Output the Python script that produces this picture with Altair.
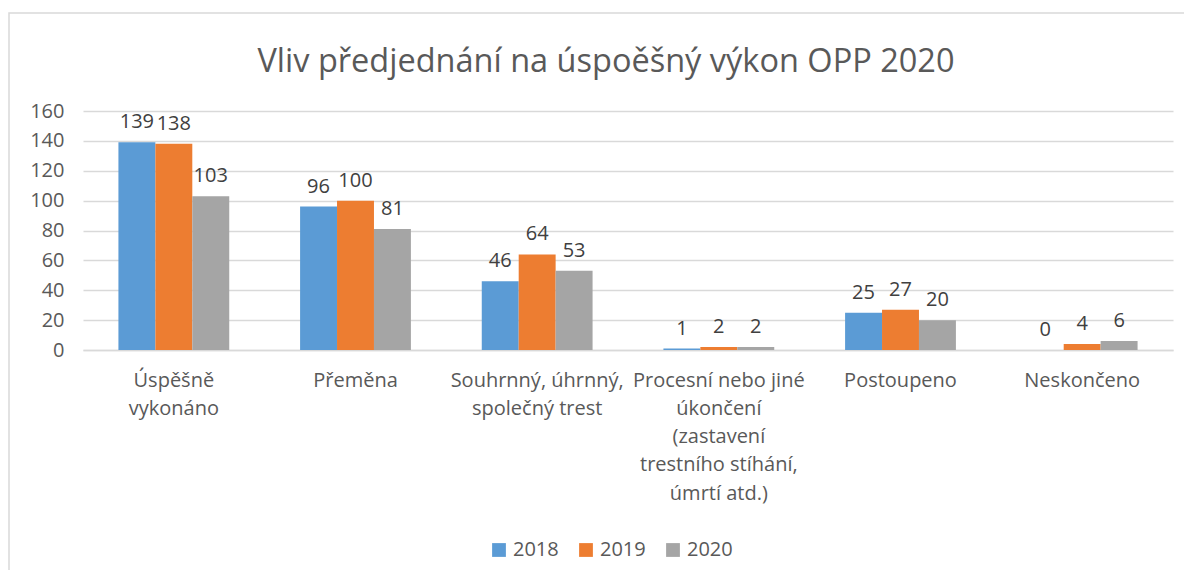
import altair as alt
import pandas as pd

categories = [
    "Úspěšně|vykonáno",
    "Přeměna",
    "Souhrnný, úhrnný,|společný trest",
    "Procesní nebo jiné|úkončení|(zastavení|trestního stíhání,|úmrtí atd.)",
    "Postoupeno",
    "Neskončeno",
]
years = ["2018", "2019", "2020"]
v2018 = [139, 96, 46, 1, 25, 0]
v2019 = [138, 100, 64, 2, 27, 4]
v2020 = [103, 81, 53, 2, 20, 6]
colors = ["#5B9BD5", "#ED7D31", "#A5A5A5"]

rows = []
for series, yr in zip([v2018, v2019, v2020], years):
    for c, v in zip(categories, series):
        rows.append({"cat": c, "year": yr, "value": v})
df = pd.DataFrame(rows)

FONT = "Open Sans"
FS = 20

x = alt.X("cat:N", sort=categories, title=None,
          scale=alt.Scale(paddingInner=0.39, paddingOuter=0.195),
          axis=alt.Axis(labelExpr="split(datum.label, '|')", labelAngle=0,
                        labelFontSize=FS, labelColor="#595959", labelFont=FONT,
                        labelPadding=20, labelLineHeight=28.3, labelOverlap=False,
                        labelLimit=400, ticks=False, domainColor="#D9D9D9",
                        domainWidth=1.5, labelBaseline="top"))
y = alt.Y("value:Q", title=None,
          scale=alt.Scale(domain=[0, 160], nice=False),
          axis=alt.Axis(values=list(range(0, 161, 20)), labelFontSize=FS,
                        labelColor="#595959", labelFont=FONT, labelPadding=19,
                        labelOverlap=False, ticks=False, domain=False,
                        gridColor="#D9D9D9", gridWidth=1.5))
color = alt.Color("year:N", sort=years,
                  scale=alt.Scale(domain=years, range=colors),
                  legend=alt.Legend(title=None, orient="none", direction="horizontal",
                                    legendX=406, legendY=429, symbolType="square",
                                    symbolSize=190, symbolStrokeWidth=0,
                                    labelFontSize=FS, labelColor="#595959",
                                    labelFont=FONT, columnPadding=17,
                                    symbolOpacity=1))

base = alt.Chart(df).encode(x=x, y=y, xOffset=alt.XOffset("year:N", sort=years))

bars = base.mark_bar().encode(color=color)
labels = base.mark_text(fontSize=FS, font=FONT, color="#404040",
                        baseline="alphabetic", dy=-14).encode(
    text=alt.Text("value:Q"))

frame = alt.Chart(pd.DataFrame({"f": [0]})).mark_rect(
    fill=None, stroke="#D9D9D9", strokeWidth=1.5).encode(
    x=alt.value(-74), x2=alt.value(1130), y=alt.value(-98), y2=alt.value(520))

chart = (frame + bars + labels).properties(
    width=1090, height=239,
    autosize=alt.AutoSizeParams(type="none"),
    padding={"left": 75, "top": 103, "right": 11, "bottom": 220},
    title=alt.Title("Vliv předjednání na úspoěšný výkon OPP 2020",
                    fontSize=32.5, font=FONT, fontWeight="normal",
                    color="#595959", anchor="middle", dx=-22, frame="group",
                    baseline="alphabetic", offset=0, dy=92),
).configure_view(stroke=None)

chart.save("out.html", embed_options={"renderer": "svg", "actions": False})
